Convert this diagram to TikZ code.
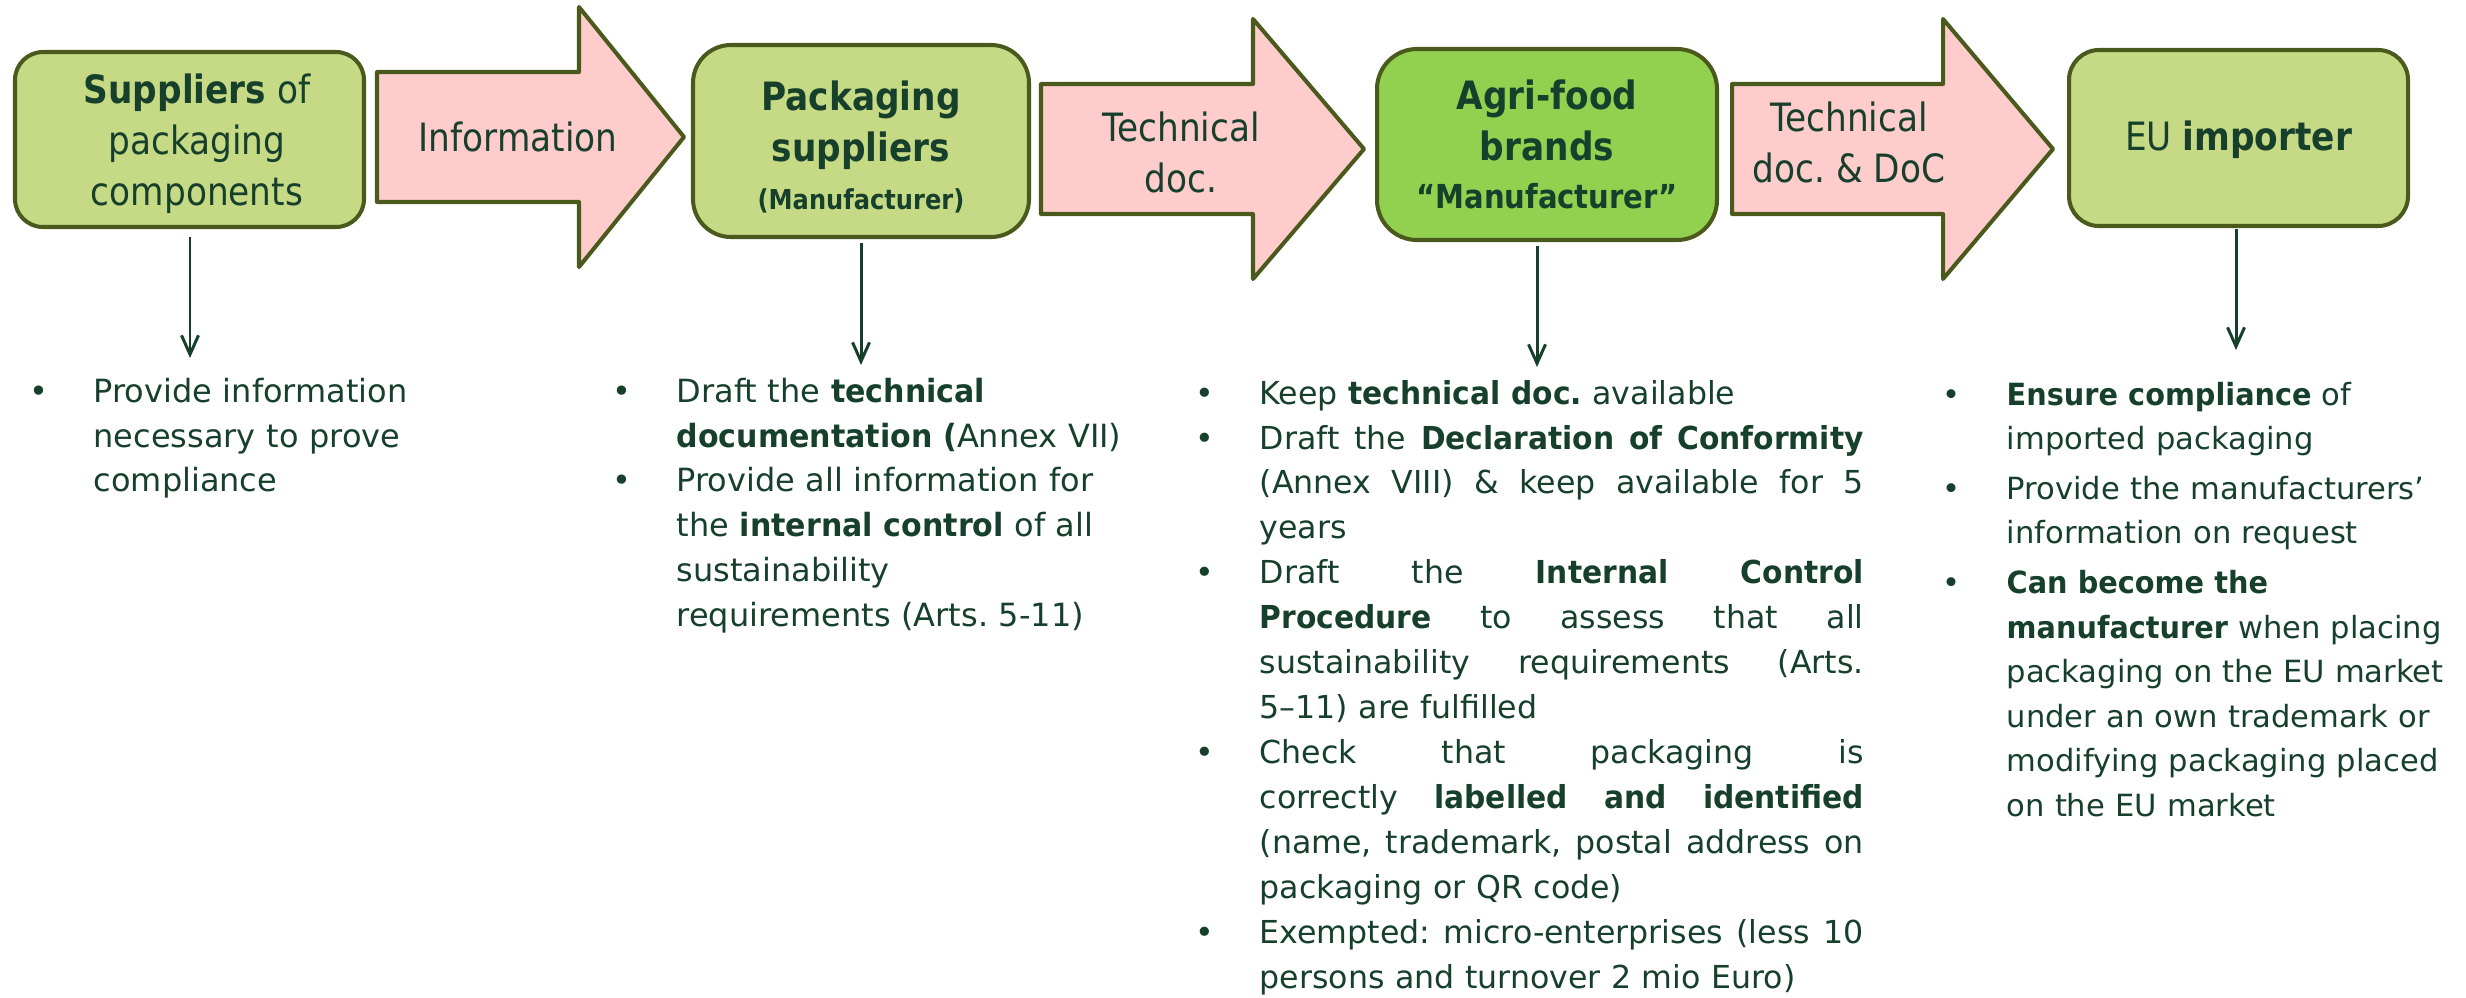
\documentclass[tikz,border=0pt]{standalone}
\usepackage{fontspec}
\setmainfont{DejaVu Sans}[BoldFeatures={FakeStretch=0.94}]
\newfontfamily\headfont{DejaVu Sans}[FakeStretch=0.88]
\usetikzlibrary{arrows.meta}

\definecolor{txt}{HTML}{17402C}
\definecolor{edge}{HTML}{4A5A1C}
\definecolor{boxfill}{HTML}{C6DA86}
\definecolor{brandfill}{HTML}{92D050}
\definecolor{arrowfill}{HTML}{FFCCCC}

% one bulleted duty with a hanging indent
\newcommand\taskitem[1]{\hangindent=6.4mm\hangafter=1\noindent\makebox[6.4mm][l]{•}#1\par}
% a fully justified line inside the third column
\newcommand\justline[1]{\hbox to 60.4mm{\spaceskip=0.32em plus 1fil minus 0.08em\relax #1}}

\tikzset{
  stage/.style={draw=edge, line width=1.15pt, fill=boxfill, rounded corners=3.5mm, inner sep=0pt},
  stagetext/.style={text=txt, align=center, inner sep=0pt,
    font=\headfont\fontsize{11.1}{14.5}\selectfont},
  flowarrow/.style={draw=edge, line width=1.15pt, fill=arrowfill, line join=round},
  flowlabel/.style={text=txt, align=center, inner sep=0pt,
    font=\headfont\fontsize{11.1}{14.5}\selectfont},
  duty/.style={draw=txt, line width=0.85pt, -{Straight Barb[length=1.9mm,width=1.7mm]}},
  tasks/.style={anchor=base west, inner sep=0pt, text=txt, align=left,
    font=\fontsize{9.1}{12.8}\selectfont},
}

% block arrow: shaft start, head base, tip, centre line
\newcommand\blockarrow[4]{%
  \draw[flowarrow] (#1,#4-65) -- (#2,#4-65) -- (#2,#4-130) -- (#3,#4)
    -- (#2,#4+130) -- (#2,#4+65) -- (#1,#4+65) -- cycle;}

\begin{document}
\frenchspacing
\begin{tikzpicture}[x=0.1mm,y=-0.1mm]
\useasboundingbox (0,0) rectangle (2466,997);

% actors along the chain
\node[stage, minimum width=34.9mm, minimum height=17.5mm, rounded corners=2.8mm] (s1) at (189.5,139.5) {};
\node[stage, minimum width=33.6mm, minimum height=19.2mm, rounded corners=3.8mm] (s2) at (861,141) {};
\node[stage, fill=brandfill, minimum width=34mm, minimum height=19.1mm, rounded corners=4mm] (s3) at (1547,144.5) {};
\node[stage, minimum width=33.9mm, minimum height=17.6mm, rounded corners=3mm] (s4) at (2238.5,138) {};

\node[stagetext] (l1) at (197,144) {\textbf{Suppliers} of\\packaging\\components};
\node[stagetext] (l2) at (861,147)
  {\textbf{Packaging}\\\textbf{suppliers}\\[-1pt]{\fontsize{7.8}{9}\selectfont\textbf{(Manufacturer)}}};
\node[stagetext] (l3) at (1547,144.5)
  {\textbf{Agri-food}\\\textbf{brands}\\[-1pt]{\fontsize{9.4}{11}\selectfont\textbf{“Manufacturer”}}};
\node[stagetext] (l4) at (2238.5,140) {EU \textbf{importer}};

% what passes between them
\blockarrow{377}{579}{684}{137}
\node[flowlabel] (f1) at (518,137) {Information};
\blockarrow{1041}{1253}{1364}{149}
\node[flowlabel] (f2) at (1181,152) {Technical\\doc.};
\blockarrow{1732}{1943}{2053}{149}
\node[flowlabel] (f3) at (1849,142) {Technical\\doc. \& DoC};

% obligations of each actor
\node[tasks, text width=45mm] (t1) at (29,402) {%
  \taskitem{Provide information\newline necessary to prove\newline compliance}};

\node[tasks, text width=52mm] (t2) at (612,402) {%
  \taskitem{Draft the \textbf{technical}\newline \textbf{documentation (}Annex VII)}
  \taskitem{Provide all information for\newline the \textbf{internal control} of all\newline sustainability\newline requirements (Arts. 5-11)}};

\node[tasks, text width=67mm, font=\fontsize{9}{12.8}\selectfont] (t3) at (1195,404) {%
  \taskitem{Keep \textbf{technical doc.} available}
  \taskitem{\justline{Draft the \textbf{Declaration of Conformity}}\newline
    \justline{(Annex VIII) \& keep available for 5}\newline
    years}
  \taskitem{\justline{Draft the \textbf{Internal Control}}\newline
    \justline{\textbf{Procedure} to assess that all}\newline
    \justline{sustainability requirements (Arts.}\newline
    5–11) are fulfilled}
  \taskitem{\justline{Check that packaging is}\newline
    \justline{correctly \textbf{labelled and identified}}\newline
    \justline{(name, trademark, postal address on}\newline
    packaging or QR code)}
  \taskitem{\justline{Exempted: micro-enterprises (less 10}\newline
    persons and turnover 2 mio Euro)}};

\node[tasks, text width=52mm, font=\fontsize{8.7}{12.66}\selectfont] (t4) at (1942,405) {%
  \taskitem{\textbf{Ensure compliance} of\newline imported packaging}\vspace{0.55mm}
  \taskitem{Provide the manufacturers’\newline information on request}\vspace{0.55mm}
  \taskitem{\textbf{Can become the}\newline \textbf{manufacturer} when placing\newline packaging on the EU market\newline under an own trademark or\newline modifying packaging placed\newline on the EU market}};

% each actor points to its duties
\coordinate (d1) at (190,358);
\coordinate (d2) at (861,365);
\coordinate (d3) at (1537,367);
\coordinate (d4) at (2236,350);
\draw[duty] ([yshift=-0.8mm]s1.south -| d1) -- (d1);
\draw[duty] ([yshift=-0.4mm]s2.south -| d2) -- (d2);
\draw[duty] ([yshift=-0.4mm]s3.south -| d3) -- (d3);
\draw[duty] ([yshift=-0.1mm]s4.south -| d4) -- (d4);
\end{tikzpicture}
\end{document}
